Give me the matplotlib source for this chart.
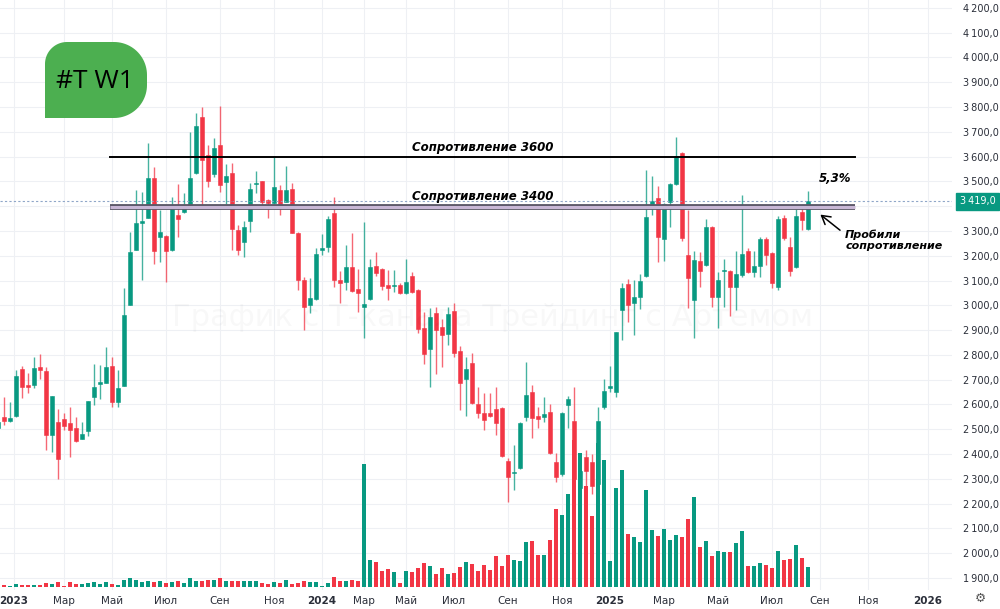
import numpy as np
import matplotlib
matplotlib.use("Agg")
import matplotlib.pyplot as plt
from matplotlib.patches import Polygon
from matplotlib.ticker import FuncFormatter

# weekly candles T (first one is cut by the left edge)
opens = [2505, 2550, 2534, 2554, 2743, 2679, 2679, 2751, 2735, 2477,
         2529, 2541, 2525, 2505, 2461, 2493, 2630, 2683, 2687, 2755,
         2610, 2675, 3002, 3224, 3333, 3353, 3514, 3276, 3280, 3224,
         3365, 3377, 3397, 3534, 3760, 3607, 3530, 3647, 3498, 3534,
         3304, 3256, 3341, 3490, 3502, 3425, 3413, 3466, 3417, 3470,
         3292, 3103, 3002, 3026, 3224, 3236, 3373, 3103, 3095, 3155,
         3066, 2994, 3026, 3159, 3147, 3083, 3079, 3083, 3050, 3119,
         3062, 2909, 2824, 2969, 2913, 2884, 2977, 2816, 2703, 2767,
         2602, 2566, 2566, 2582, 2586, 2372, 2324, 2344, 2550, 2650,
         2554, 2550, 2570, 2368, 2320, 2598, 2534, 2262, 2388, 2368,
         2280, 2590, 2667, 2651, 2981, 3087, 3010, 3034, 3119, 3405,
         3433, 3268, 3417, 3490, 3615, 3204, 3022, 3179, 3163, 3316,
         3034, 3139, 3139, 3075, 3123, 3220, 3135, 3159, 3268, 3212,
         3075, 3353, 3236, 3155, 3377, 3308]
highs = [2545, 2630, 2610, 2739, 2755, 2727, 2792, 2804, 2751, 2634,
         2582, 2566, 2590, 2550, 2529, 2614, 2763, 2759, 2832, 2792,
         2739, 3070, 3296, 3466, 3458, 3655, 3558, 3385, 3285, 3437,
         3490, 3454, 3700, 3776, 3800, 3647, 3675, 3804, 3570, 3574,
         3324, 3341, 3494, 3542, 3502, 3430, 3599, 3486, 3562, 3494,
         3295, 3115, 3111, 3232, 3288, 3361, 3437, 3139, 3244, 3292,
         3147, 3337, 3188, 3216, 3150, 3143, 3143, 3090, 3188, 3135,
         3065, 2973, 2989, 2994, 2945, 2994, 3010, 2836, 2792, 2808,
         2671, 2646, 2646, 2671, 2590, 2384, 2437, 2530, 2771, 2679,
         2590, 2630, 2602, 2404, 2570, 2634, 2671, 2350, 2416, 2400,
         2590, 2703, 2755, 2893, 3091, 3107, 3103, 3127, 3546, 3522,
         3482, 3412, 3495, 3679, 3620, 3385, 3220, 3216, 3349, 3320,
         3135, 3188, 3142, 3220, 3445, 3232, 3220, 3276, 3276, 3215,
         3361, 3365, 3276, 3389, 3393, 3462]
lows = [2490, 2517, 2530, 2550, 2626, 2646, 2667, 2703, 2416, 2408,
        2299, 2497, 2388, 2449, 2461, 2473, 2598, 2622, 2687, 2590,
        2590, 2675, 3000, 3224, 3103, 3353, 3167, 3175, 3095, 3220,
        3276, 3373, 3395, 3530, 3393, 3478, 3518, 3458, 3409, 3224,
        3204, 3196, 3296, 3454, 3397, 3353, 3410, 3365, 3415, 3290,
        3062, 2901, 2969, 3020, 3204, 3216, 3075, 3010, 3062, 3054,
        2973, 2868, 3020, 3119, 3062, 3022, 3054, 3045, 3045, 3050,
        2889, 2764, 2671, 2723, 2751, 2840, 2792, 2578, 2554, 2600,
        2546, 2497, 2550, 2477, 2388, 2207, 2255, 2340, 2533, 2465,
        2505, 2529, 2400, 2287, 2312, 2505, 2280, 2203, 2263, 2240,
        2230, 2580, 2650, 2630, 2860, 2933, 2881, 2985, 3115, 3365,
        3175, 3179, 3316, 3485, 3260, 2989, 2868, 3075, 3160, 2994,
        2909, 2994, 2957, 2981, 3115, 3131, 3115, 3115, 3163, 3070,
        3062, 3264, 3119, 3150, 3304, 3305]
closes = [2530, 2534, 2546, 2715, 2671, 2671, 2747, 2739, 2477, 2634,
          2380, 2513, 2497, 2453, 2481, 2614, 2671, 2691, 2751, 2610,
          2667, 2961, 3216, 3333, 3341, 3514, 3220, 3296, 3220, 3393,
          3349, 3397, 3514, 3724, 3587, 3502, 3635, 3486, 3522, 3308,
          3224, 3316, 3470, 3494, 3417, 3413, 3478, 3401, 3466, 3292,
          3103, 2994, 3030, 3208, 3232, 3349, 3103, 3091, 3155, 3058,
          3050, 3004, 3155, 3131, 3079, 3070, 3083, 3050, 3095, 3054,
          2905, 2804, 2953, 2901, 2880, 2965, 2808, 2687, 2743, 2606,
          2566, 2538, 2554, 2525, 2392, 2308, 2328, 2525, 2638, 2546,
          2542, 2562, 2404, 2308, 2566, 2622, 2300, 2330, 2332, 2271,
          2534, 2655, 2675, 2893, 3071, 3002, 3034, 3099, 3357, 3421,
          3276, 3409, 3490, 3603, 3270, 3111, 3184, 3139, 3316, 3034,
          3103, 3143, 3075, 3127, 3208, 3135, 3159, 3268, 3204, 3091,
          3349, 3272, 3139, 3361, 3345, 3419]
volume = [6, 7, 2, 10, 6, 6, 7, 7, 12, 10,
          14, 4, 14, 8, 8, 12, 15, 10, 14, 10,
          6, 22, 26, 20, 16, 17, 16, 17, 12, 16,
          19, 12, 28, 19, 19, 21, 22, 28, 17, 17,
          17, 17, 19, 19, 12, 10, 15, 12, 22, 10,
          12, 19, 14, 14, 4, 12, 30, 17, 17, 22,
          19, 370, 82, 74, 49, 54, 45, 12, 49, 45,
          58, 72, 62, 40, 56, 40, 42, 60, 74, 69,
          49, 67, 50, 92, 62, 97, 80, 77, 136, 138,
          96, 96, 140, 234, 217, 280, 441, 402, 302, 212,
          432, 380, 77, 297, 350, 159, 149, 135, 290, 172,
          154, 174, 140, 156, 149, 205, 270, 120, 139, 92,
          109, 104, 106, 132, 167, 62, 62, 72, 65, 58,
          109, 80, 85, 127, 87, 60]

month_pos = [2.6, 11, 19, 28, 37, 46, 54, 61, 68, 76, 85, 94, 102, 111, 120, 129, 137, 145, 155]
month_labels = ["2023", "Мар", "Май", "Июл", "Сен", "Ноя",
                "2024", "Мар", "Май", "Июл", "Сен", "Ноя",
                "2025", "Мар", "Май", "Июл", "Сен", "Ноя", "2026"]

price_ticks = np.arange(1900, 4201, 100)
resist_hi = 3600
resist_lo = 3395

UP = "#089981"
DOWN = "#f23645"

o = np.array(opens, float)
h = np.array(highs, float)
l = np.array(lows, float)
c = np.array(closes, float)
v = np.array(volume, float)
x = np.arange(len(c))
up = c >= o
col = np.where(up, UP, DOWN)


def price_fmt(val):
    return f"{val:,.1f}".replace(",", "\u2009").replace(".", ",")


fig = plt.figure(figsize=(10, 6.09), dpi=100)
fig.patch.set_facecolor("white")
pos = [0, 19 / 609, 952 / 1000, 590 / 609]

ax = fig.add_axes(pos, label="price")
axg = fig.add_axes(pos, sharex=ax, sharey=ax, label="grid")
axv = fig.add_axes(pos, sharex=ax, label="vol")
axg.set_zorder(0)
axv.set_zorder(1)
ax.set_zorder(2)
ax.patch.set_visible(False)
axv.patch.set_visible(False)
axg.set_facecolor("white")

ax.set_xlim(0.333, 159.0)
ax.set_ylim(1851, 4232)
axv.set_ylim(-9, 1761)

# grid layer
axg.grid(True, color="#eef0f4", lw=0.8)
axg.tick_params(labelleft=False, labelbottom=False, length=0)
for a in (ax, axg, axv):
    for s in a.spines.values():
        s.set_visible(False)
axv.set_yticks([])
axv.tick_params(labelbottom=False, length=0)

# volume
axv.bar(x, v, width=0.82, color=col, linewidth=0)

# candles
ax.vlines(x, l, h, colors=col, lw=1.0, alpha=0.75)
ax.bar(x, c - o, bottom=o, width=0.72, color=col, edgecolor=col, linewidth=0.4)

# axes ticks (the label under the last-price tag is hidden, as on the chart)
ax.set_yticks(price_ticks)
ax.yaxis.tick_right()
ax.yaxis.set_major_formatter(FuncFormatter(
    lambda val, p: "" if abs(val - c[-1]) < 40 else price_fmt(val)))
ax.tick_params(axis="y", length=0, pad=8, labelsize=7, labelcolor="#2a2e39")
ax.set_xticks(month_pos)
ax.set_xticklabels(month_labels)
ax.tick_params(axis="x", length=0, pad=4, labelsize=7.5, labelcolor="#2a2e39")
for t in ax.get_xticklabels():
    if t.get_text().isdigit():
        t.set_fontweight("bold")

# current price line + label
ax.axhline(c[-1], color="#8fa6c8", lw=0.8, ls=(0, (2, 2)), zorder=1)
ax.text(1.008, c[-1], price_fmt(c[-1]), transform=ax.get_yaxis_transform(), color="white",
        fontsize=7, va="center", ha="left", clip_on=False, zorder=20,
        bbox=dict(boxstyle="square,pad=0.35", fc=UP, ec=UP))

# resistance lines
ax.plot([18.67, 142.8], [resist_hi, resist_hi], color="black", lw=1.4, zorder=5)
ax.plot([18.67, 142.8], [resist_lo, resist_lo], color="#5c5868", lw=4.2, zorder=5,
        solid_capstyle="butt")
ax.plot([18.67, 142.8], [resist_lo, resist_lo], color="#c8b7d6", lw=2.2, zorder=6,
        solid_capstyle="butt")
ax.text(80.8, 3635, "Сопротивление 3600", ha="center", va="center", fontsize=8.5,
        style="italic", fontweight="bold", zorder=7)
ax.text(80.8, 3441, "Сопротивление 3400", ha="center", va="center", fontsize=8.5,
        style="italic", fontweight="bold", zorder=7)
ax.text(139.5, 3510, "5,3%", ha="center", va="center", fontsize=8.5,
        style="italic", fontweight="bold", zorder=7)
ax.annotate("", xy=(136.7, 3373), xytext=(140.7, 3296),
            arrowprops=dict(arrowstyle="->,head_length=0.6,head_width=0.35",
                            lw=1.1, color="black"), zorder=7)
ax.text(141.2, 3262, "Пробили\nсопротивление", ha="left", va="center", fontsize=8,
        style="italic", fontweight="bold", linespacing=1.05, zorder=7)

# overlay in pixel coordinates
ov = fig.add_axes([0, 0, 1, 1], label="overlay")
ov.set_zorder(10)
ov.set_xlim(0, 1000)
ov.set_ylim(609, 0)
ov.axis("off")
ov.patch.set_visible(False)


def corner(cx, cy, r, a0, a1):
    t = np.radians(np.linspace(a0, a1, 24))
    return np.column_stack([cx + r * np.cos(t), cy + r * np.sin(t)])


pts = np.vstack([
    [[45, 118]],
    corner(67, 64, 22, 180, 270),
    corner(114, 75, 33, 270, 360),
    corner(114, 85, 33, 0, 90),
])
ov.add_patch(Polygon(pts, closed=True, fc="#4caf50", ec="none"))
ov.text(95, 81, "#T W1", ha="center", va="center", fontsize=19,
        family="Open Sans", color="black")

ov.text(492, 318, "График с Т-канала Трейдинг с Артемом", ha="center", va="center",
        fontsize=22, color=(0, 0, 0, 0.028))
ov.text(980, 598, "\u2699", ha="center", va="center", fontsize=9, color="#555555")

fig.savefig("out.png", dpi=100)
